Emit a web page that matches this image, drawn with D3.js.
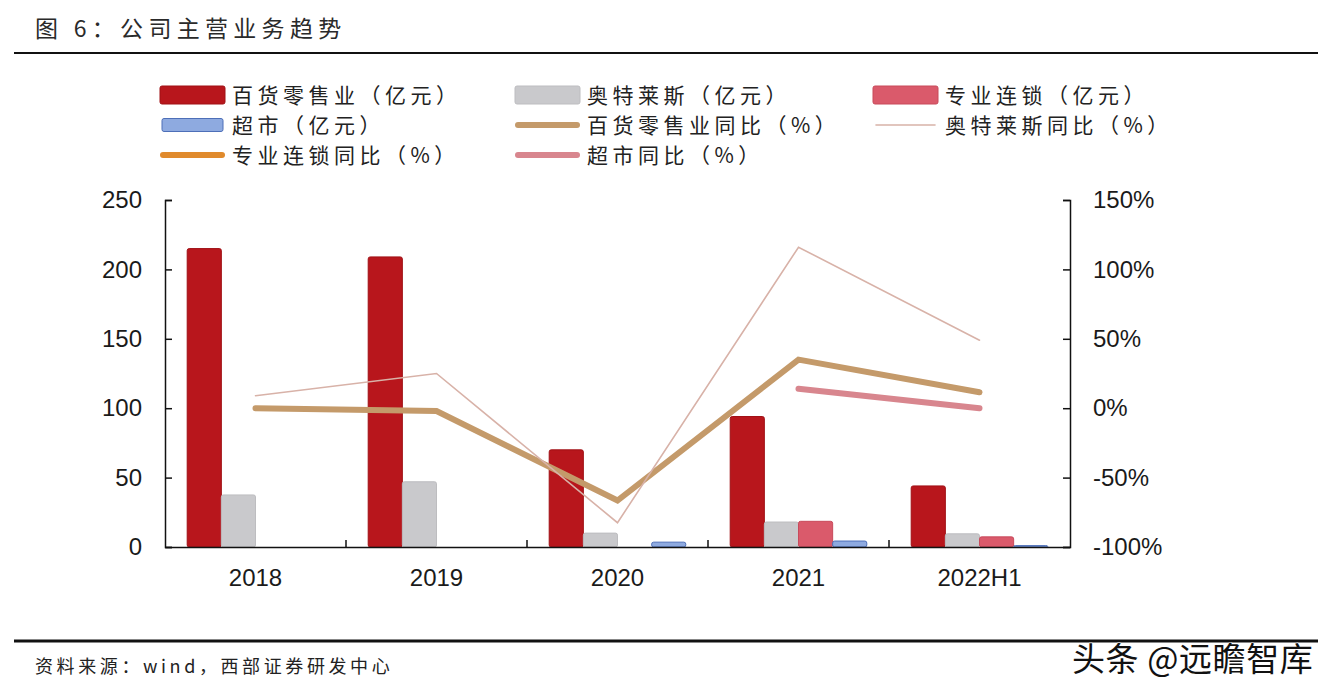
<!DOCTYPE html>
<html><head><meta charset="utf-8">
<script src="https://cdn.jsdelivr.net/npm/d3@7"></script>
<style>
html,body{margin:0;padding:0;background:#fff;}
svg{display:block;}
</style></head>
<body>
<svg id="chart" width="1336" height="696"></svg>
<script>
// ---------- data ----------
const categories = ["2018", "2019", "2020", "2021", "2022H1"];
const deptStore   = [215, 209, 70, 94, 44];      // 百货零售业（亿元）
const outlets     = [37.5, 47, 10, 18, 9.5];     // 奥特莱斯（亿元）
const specialty   = [null, null, null, 18.5, 7.3]; // 专业连锁（亿元）
const supermarket = [null, null, 3.5, 4.3, 1];   // 超市（亿元）
const deptYoY     = [0, -2, -66.5, 35, 11.5];    // 百货零售业同比（%）
const outletYoY   = [9, 25, -82.5, 116, 49];     // 奥特莱斯同比（%）
const specialtyYoY = [null, null, null, null, null]; // 专业连锁同比（%）
const superYoY    = [null, null, null, 14, 0];   // 超市同比（%）
const leftTicks  = [0, 50, 100, 150, 200, 250];
const rightTicks = [-100, -50, 0, 50, 100, 150];

const title = "图 6：公司主营业务趋势";
const source = "资料来源：wind，西部证券研发中心";
const watermark = "头条 @远瞻智库";

const barSeries = [
  {name: "百货零售业（亿元）", values: deptStore, color: "#b8161c", stroke: "#a01015"},
  {name: "奥特莱斯（亿元）", values: outlets, color: "#c9c9cc", stroke: "#bdbdc0"},
  {name: "专业连锁（亿元）", values: specialty, color: "#da5a6b", stroke: "#c84a5b"},
  {name: "超市（亿元）", values: supermarket, color: "#8eaae0", stroke: "#4d6fb8"}
];
const lineSeries = [
  {name: "百货零售业同比（%）", values: deptYoY, color: "#c49a6a", width: 6},
  {name: "奥特莱斯同比（%）", values: outletYoY, color: "#d8b2a8", width: 1.6},
  {name: "专业连锁同比（%）", values: specialtyYoY, color: "#e08a2c", width: 6},
  {name: "超市同比（%）", values: superYoY, color: "#d8868e", width: 6}
];

// ---------- layout ----------
const svg = d3.select("#chart");
const L = 165, R = 1070, T = 200, B = 547;
const cjk = "'Noto Sans CJK SC','Noto Sans',sans-serif";
const num = "'Liberation Sans',Arial,sans-serif";

// title & rules
svg.append("text").attr("x", 35).attr("y", 37).text(title)
  .attr("font-family", cjk).attr("font-size", 23).attr("letter-spacing", 5.3).attr("fill", "#2a2a2a");
svg.append("line").attr("x1", 14).attr("x2", 1318).attr("y1", 53).attr("y2", 53)
  .attr("stroke", "#111").attr("stroke-width", 2);
svg.append("line").attr("x1", 14).attr("x2", 1318).attr("y1", 641).attr("y2", 641)
  .attr("stroke", "#111").attr("stroke-width", 3);
svg.append("text").attr("x", 35).attr("y", 673).text(source)
  .attr("font-family", cjk).attr("font-size", 18).attr("letter-spacing", 3.6).attr("fill", "#222");
svg.append("text").attr("x", 1072).attr("y", 671).text(watermark)
  .attr("font-family", cjk).attr("font-size", 33).attr("letter-spacing", 0.6).attr("fill", "#111")
  .attr("stroke", "#fff").attr("stroke-width", 0.8).attr("paint-order", "stroke");

// scales
const x = d3.scaleBand().domain(categories).range([L, R]);
const yL = d3.scaleLinear().domain([0, 250]).range([B, T]);
const yR = d3.scaleLinear().domain([-100, 150]).range([B, T]);
const bw = x.bandwidth();
const inner = d3.scaleBand().domain(d3.range(barSeries.length))
  .range([0, bw]).paddingOuter(0.65).paddingInner(0);

// bars
barSeries.forEach((s, si) => {
  svg.append("g").selectAll("rect")
    .data(categories.map((c, i) => ({c, v: s.values[i]})).filter(d => d.v != null))
    .join("rect")
    .attr("x", d => x(d.c) + inner(si))
    .attr("width", inner.bandwidth())
    .attr("y", d => yL(d.v))
    .attr("height", d => yL(0) - yL(d.v))
    .attr("rx", 2)
    .attr("fill", s.color).attr("stroke", s.stroke).attr("stroke-width", 1);
});

// lines
lineSeries.forEach(s => {
  const pts = categories.map((c, i) => ({c, v: s.values[i]}));
  const line = d3.line().defined(d => d.v != null)
    .x(d => x(d.c) + bw / 2).y(d => yR(d.v));
  svg.append("path").datum(pts).attr("d", line)
    .attr("fill", "none").attr("stroke", s.color).attr("stroke-width", s.width)
    .attr("stroke-linecap", "round").attr("stroke-linejoin", "miter");
});

// axes
const axL = svg.append("g").attr("transform", `translate(${L},0)`)
  .call(d3.axisLeft(yL).tickValues(leftTicks).tickSizeInner(-7).tickSizeOuter(-7).tickPadding(23));
const axR = svg.append("g").attr("transform", `translate(${R},0)`)
  .call(d3.axisRight(yR).tickValues(rightTicks).tickFormat(d => d + "%")
    .tickSizeInner(-7).tickSizeOuter(-7).tickPadding(23));
const axB = svg.append("g").attr("transform", `translate(0,${B})`)
  .call(d3.axisBottom(x).tickSize(0).tickPadding(22));
// category boundary ticks
svg.append("g").selectAll("line").data(categories.slice(1)).join("line")
  .attr("x1", d => x(d)).attr("x2", d => x(d)).attr("y1", B).attr("y2", B - 7)
  .attr("stroke", "#111").attr("stroke-width", 1.5);

[axL, axR, axB].forEach(g => {
  g.selectAll("path,line").attr("stroke", "#111").attr("stroke-width", 1.5);
  g.selectAll("text").attr("font-family", num).attr("font-size", 24).attr("fill", "#1a1a1a");
});

// legend
const legendItems = [
  {type: "bar", s: barSeries[0]}, {type: "bar", s: barSeries[1]}, {type: "bar", s: barSeries[2]},
  {type: "bar", s: barSeries[3], small: true}, {type: "line", s: lineSeries[0]}, {type: "line", s: lineSeries[1]},
  {type: "line", s: lineSeries[2]}, {type: "line", s: lineSeries[3]}
];
const colX = [160, 515, 873];
const rowY = [95, 125, 155];
legendItems.forEach((it, i) => {
  const cx = colX[i % 3], cy = rowY[Math.floor(i / 3)];
  const g = svg.append("g");
  if (it.type === "bar") {
    const h = it.small ? 13 : 18;
    g.append("rect").attr("x", cx + (it.small ? 2 : 0)).attr("y", cy - h / 2)
      .attr("width", it.small ? 61 : 65).attr("height", h).attr("rx", 2)
      .attr("fill", it.s.color).attr("stroke", it.s.stroke).attr("stroke-width", 1);
  } else {
    g.append("line").attr("x1", cx + 3).attr("x2", cx + 62).attr("y1", cy).attr("y2", cy)
      .attr("stroke", it.s.color).attr("stroke-width", it.s.width)
      .attr("stroke-linecap", "round");
  }
  g.append("text").attr("x", cx + 72).attr("y", cy + 8).text(it.s.name)
    .attr("font-family", cjk).attr("font-size", 21).attr("letter-spacing", 4.5).attr("fill", "#222");
});
</script>
</body></html>
